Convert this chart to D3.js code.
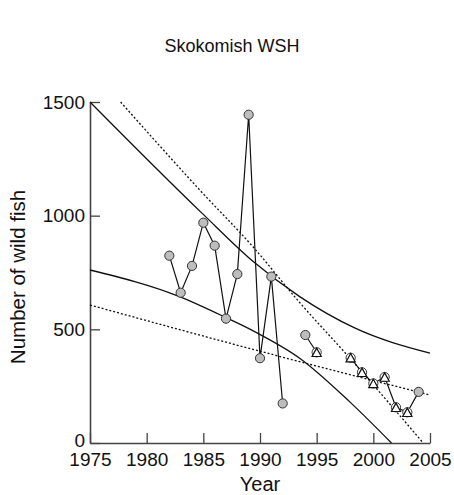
<!DOCTYPE html>
<html>
<head>
<meta charset="utf-8">
<script src="https://cdn.jsdelivr.net/npm/d3@7"></script>
<style>
  body { margin: 0; background: #fff; }
  text { font-family: "Liberation Sans", Arial, sans-serif; fill: #111; }
</style>
</head>
<body>
<div id="chart"></div>
<script>
// observed counts
const years = [1982, 1983, 1984, 1985, 1986, 1987, 1988, 1989, 1990, 1991, 1992, 1994, 1995, 1998, 1999, 2000, 2001, 2002, 2003, 2004];
const fish = [824, 661, 779, 969, 868, 547, 743, 1444, 373, 732, 174, 475, 399, 375, 311, 262, 290, 157, 135, 225];
const triangleYears = [1995, 1998, 1999, 2000, 2001, 2002, 2003];

// fitted curves
const upperSolidYr = [1975, 1984.9, 1989.4, 1993.5, 1998.4, 2005];
const upperSolidVal = [1500, 1010, 798, 644, 505, 395];
const upperDotYr = [1977.7, 1984.7, 1989.4, 1993.5, 1997.9, 2004.4];
const upperDotVal = [1500, 1112, 862, 618, 375, 0];
const lowerSolidYr = [1975, 1982.9, 1986.9, 1989.6, 1993.5, 1997.9, 2001.6];
const lowerSolidVal = [761, 644, 554, 488, 373, 182, 0];
const lowerDotYr = [1975, 1989.6, 1993.5, 2005];
const lowerDotVal = [607, 409, 358, 211];

const xTicks = [1975, 1980, 1985, 1990, 1995, 2000, 2005];
const yTicks = [0, 500, 1000, 1500];

const W = 454, H = 495;
const margins = { t: 102, b: 52, l: 90, r: 24 };
const chartdims = { width: W - margins.l - margins.r, height: H - margins.t - margins.b };

const svg = d3.select('#chart').append('svg').attr('width', W).attr('height', H);

const xScale = d3.scaleLinear().domain([1975, 2005]).range([0, chartdims.width]);
const yScale = d3.scaleLinear().domain([0, 1500]).range([chartdims.height, 0]);

const plotg = svg.append('g').attr('transform', `translate(${margins.l},${margins.t})`);

// axes, ticks pointing inward
const axisColor = '#444';
const xAxis = d3.axisBottom(xScale).tickValues(xTicks).tickFormat(d3.format('d')).tickSizeInner(-10).tickSizeOuter(0).tickPadding(10);
const yAxis = d3.axisLeft(yScale).tickValues(yTicks).tickFormat(d3.format('d')).tickSizeInner(-10).tickSizeOuter(0).tickPadding(5);

const xaxisg = plotg.append('g').attr('transform', `translate(0,${chartdims.height})`).call(xAxis);
const yaxisg = plotg.append('g').call(yAxis);

[xaxisg, yaxisg].forEach(g => {
  g.selectAll('path.domain').attr('stroke', axisColor).attr('stroke-width', 1.6);
  g.selectAll('.tick line').attr('stroke', axisColor).attr('stroke-width', 1.3);
  g.selectAll('.tick text').attr('font-size', 19).attr('font-family', '"Liberation Sans", Arial, sans-serif').attr('fill', '#111');
});
// lift the "0" a touch so it clears the 1975 label
yaxisg.selectAll('.tick text').filter(d => d === 0).attr('dy', '0.2em');

// fitted curves
const curves = [
  { x: upperSolidYr, y: upperSolidVal, dash: null },
  { x: upperDotYr, y: upperDotVal, dash: '2,2' },
  { x: lowerSolidYr, y: lowerSolidVal, dash: null },
  { x: lowerDotYr, y: lowerDotVal, dash: '2,2' },
];

const curveGen = d3.line()
  .x(d => xScale(d[0]))
  .y(d => yScale(d[1]))
  .curve(d3.curveMonotoneX);

plotg.selectAll('.fit-line')
  .data(curves)
  .join('path')
  .attr('class', 'fit-line')
  .attr('d', c => curveGen(c.x.map((v, i) => [v, c.y[i]])))
  .attr('fill', 'none')
  .attr('stroke', '#111')
  .attr('stroke-width', 1.3)
  .attr('stroke-dasharray', c => c.dash);

// observed series, broken where years are missing
const pts = years.map((yr, i) => ({ year: yr, n: fish[i], tri: triangleYears.includes(yr) }));
const runs = [];
pts.forEach((p, i) => {
  if (i === 0 || p.year - pts[i - 1].year > 1) runs.push([]);
  runs[runs.length - 1].push(p);
});

const lineGen = d3.line().x(d => xScale(d.year)).y(d => yScale(d.n));

plotg.selectAll('.data-line')
  .data(runs)
  .join('path')
  .attr('class', 'data-line')
  .attr('d', lineGen)
  .attr('fill', 'none')
  .attr('stroke', '#111')
  .attr('stroke-width', 1.2);

const markerg = plotg.selectAll('.marker')
  .data(pts)
  .join('g')
  .attr('class', 'marker')
  .attr('transform', d => `translate(${xScale(d.year)},${yScale(d.n)})`);

markerg.append('circle')
  .attr('r', 4.6)
  .attr('fill', d => d.tri ? '#fff' : '#bdbdbd')
  .attr('stroke', '#333')
  .attr('stroke-width', 1);

markerg.filter(d => d.tri)
  .append('path')
  .attr('d', 'M0,-4.2L4.6,4.2L-4.6,4.2Z')
  .attr('fill', '#fff')
  .attr('stroke', '#111')
  .attr('stroke-width', 1.2);

// titles
svg.append('text')
  .attr('x', 232).attr('y', 52)
  .attr('text-anchor', 'middle')
  .attr('font-size', 18)
  .text('Skokomish WSH');

svg.append('text')
  .attr('x', margins.l + chartdims.width / 2).attr('y', 491)
  .attr('text-anchor', 'middle')
  .attr('font-size', 20)
  .text('Year');

svg.append('text')
  .attr('transform', `translate(25,277) rotate(-90)`)
  .attr('text-anchor', 'middle')
  .attr('font-size', 20.5)
  .text('Number of wild fish');
</script>
</body>
</html>
